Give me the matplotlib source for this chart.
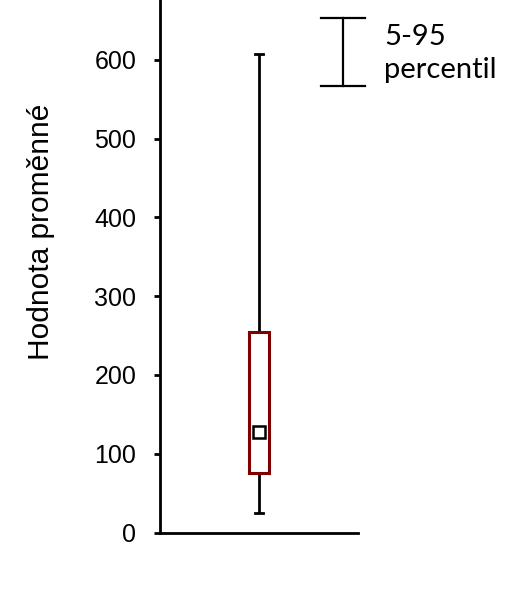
import matplotlib
matplotlib.use("Agg")
import matplotlib.pyplot as plt
from matplotlib.patches import Rectangle
from matplotlib.lines import Line2D

# Data
categories = ["Proměnná"]
p5 = [25]
q1 = [75]
mean_vals = [127]
q3 = [255]
p95 = [607]
yticks = [0, 100, 200, 300, 400, 500, 600]
ylabel = "Hodnota proměnné"
legend_text = "5-95\npercentil"

W, H = 517, 611
fig = plt.figure(figsize=(W / 100, H / 100), dpi=100)
ax = fig.add_axes([160 / W, 1 - 532.5 / H, 198 / W, 532.5 / H])
ax.set_xlim(0.5, 1.5)
ax.set_ylim(0, 676)

box_w = 0.096
cap_w = 0.038
for i, cat in enumerate(categories):
    x = i + 1
    ax.plot([x, x], [p5[i], q1[i]], color="black", lw=2, solid_capstyle="butt", zorder=2)
    ax.plot([x, x], [q3[i], p95[i]], color="black", lw=2, solid_capstyle="butt", zorder=2)
    ax.plot([x - cap_w / 2, x + cap_w / 2], [p5[i], p5[i]], color="black", lw=2, zorder=2)
    ax.plot([x - cap_w / 2, x + cap_w / 2], [p95[i], p95[i]], color="black", lw=2, zorder=2)
    ax.add_patch(Rectangle((x - box_w / 2, q1[i]), box_w, q3[i] - q1[i],
                           facecolor="white", edgecolor="#800000", lw=2.2, zorder=3))
    ax.plot([x], [mean_vals[i]], marker="s", ms=8.5, mfc="white", mec="black", mew=1.8, zorder=4)

for s in ["top", "right"]:
    ax.spines[s].set_visible(False)
for s in ["left", "bottom"]:
    ax.spines[s].set_linewidth(2)
ax.set_xticks([])
ax.set_yticks(yticks)
ax.tick_params(axis="y", length=4, width=2, pad=13, labelsize=18)
for lab in ax.get_yticklabels():
    lab.set_fontfamily("Liberation Sans")

def fx(px):
    return px / W

def fy(py):
    return 1 - py / H

fig.text(fx(41), fy(232), ylabel, fontfamily="Liberation Sans", fontsize=21.5,
         rotation=90, ha="center", va="center")

# Legend symbol (5-95 percentile)
lkw = dict(color="black", lw=1.6, transform=fig.transFigure)
fig.add_artist(Line2D([fx(321), fx(365)], [fy(18), fy(18)], **lkw))
fig.add_artist(Line2D([fx(321), fx(365)], [fy(86), fy(86)], **lkw))
fig.add_artist(Line2D([fx(343), fx(343)], [fy(18), fy(86)], **lkw))
fig.text(fx(384), fy(78), "percentil", fontfamily="Lato", fontsize=21,
         ha="left", va="baseline")
fig.text(fx(384), fy(45), "5-95", fontfamily="Lato", fontsize=21,
         ha="left", va="baseline")

fig.savefig("out.png", dpi=100)
